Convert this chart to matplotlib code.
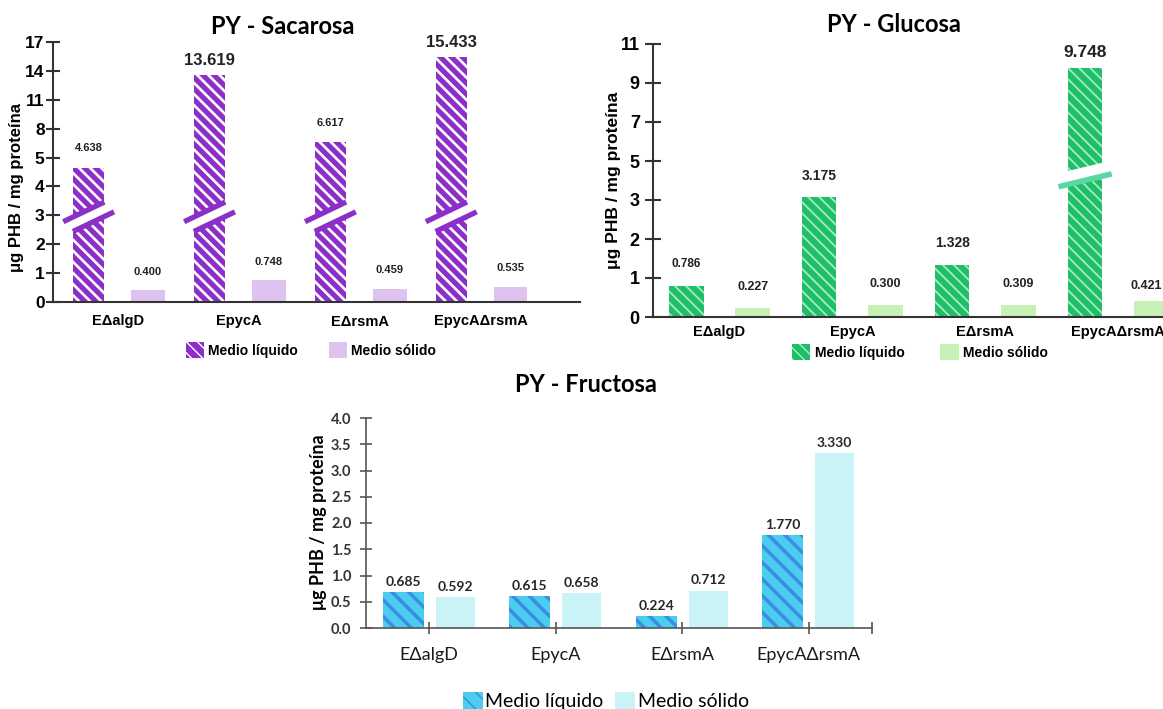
import numpy as np
import matplotlib.pyplot as plt
from matplotlib.scale import FuncScale

# data
strains = ['E\u0394algD', 'EpycA', 'E\u0394rsmA', 'EpycA\u0394rsmA']
series = ['Medio l\u00edquido', 'Medio s\u00f3lido']

sac_liquid = [4.638, 13.619, 6.617, 15.433]
sac_solid = [0.400, 0.748, 0.459, 0.535]
sac_ticks = [0, 1, 2, 3, 4, 5, 8, 11, 14, 17]

glu_liquid = [0.786, 3.175, 1.328, 9.748]
glu_solid = [0.227, 0.300, 0.309, 0.421]
glu_ticks = [0, 1, 2, 3, 5, 7, 9, 11]

fru_liquid = [0.685, 0.615, 0.224, 1.770]
fru_solid = [0.592, 0.658, 0.712, 3.330]
fru_ticks = [0.0, 0.5, 1.0, 1.5, 2.0, 2.5, 3.0, 3.5, 4.0]

ylab = '\u03bcg PHB / mg prote\u00edna'
ARIAL = 'Liberation Sans'
CALIBRI = 'Lato'

# piecewise-linear y scales (axis breaks)
def sac_fwd(v):
    v = np.asarray(v, float)
    return np.where(v <= 5, v, 5 + (v - 5) / 3)

def sac_inv(p):
    p = np.asarray(p, float)
    return np.where(p <= 5, p, 5 + (p - 5) * 3)

def glu_fwd(v):
    v = np.asarray(v, float)
    return np.where(v <= 3, v, 3 + (v - 3) / 2)

def glu_inv(p):
    p = np.asarray(p, float)
    return np.where(p <= 3, p, 3 + (p - 3) * 2)


def hatch_lw(bars, lw):
    for b in bars:
        if hasattr(b, 'set_hatch_linewidth'):
            b.set_hatch_linewidth(lw)


fig = plt.figure(figsize=(11.63, 7.09), dpi=100)
x = np.arange(len(strains))

# ---------------- PY - Sacarosa ----------------
purple = '#8B2FC8'
lav = '#DEC3F0'
ax1 = fig.add_axes([53 / 1163, 1 - 302 / 709, 527 / 1163, 260 / 709])
ax1.set_yscale(FuncScale(ax1, (sac_fwd, sac_inv)))
b1 = ax1.bar(x - 0.245, sac_liquid, 0.26, color=purple, edgecolor='white',
             linewidth=0, hatch='\\\\\\', zorder=2, label=series[0])
hatch_lw(b1, 1.9)
b2 = ax1.bar(x + 0.245, sac_solid, 0.28, color=lav, linewidth=0, zorder=2,
             label=series[1])
ax1.set_ylim(0, 17)
ax1.set_xlim(-0.54, 3.82)
ax1.set_yticks(sac_ticks)
ax1.set_yticklabels([str(t) for t in sac_ticks], fontfamily=ARIAL,
                    fontweight='bold', fontsize=12.5)
ax1.set_xticks(x)
ax1.set_xticklabels(strains, fontfamily=ARIAL, fontweight='bold', fontsize=10.5)
ax1.tick_params(axis='y', direction='inout', length=10, width=1.5, pad=1,
                color='#333333')
ax1.tick_params(axis='x', length=0, pad=9)
for s in ['top', 'right']:
    ax1.spines[s].set_visible(False)
for s in ['left', 'bottom']:
    ax1.spines[s].set_color('#333333')
    ax1.spines[s].set_linewidth(1.5)
ax1.set_ylabel(ylab, fontfamily=ARIAL, fontweight='bold', fontsize=12,
               va='center')
ax1.yaxis.set_label_coords(-0.07, 0.44)

sac_liq_sz = [8, 12, 8, 12]
sac_liq_off = [11, 5, 10, 5]
for xi, v, fs, off in zip(x - 0.245, sac_liquid, sac_liq_sz, sac_liq_off):
    ax1.annotate(f'{v:.3f}', (xi, v), xytext=(0, off), textcoords='offset points',
                 ha='center', va='bottom', fontsize=fs, fontweight='bold',
                 fontfamily=ARIAL, color='#222222')
for xi, v in zip(x + 0.245, sac_solid):
    ax1.annotate(f'{v:.3f}', (xi, v), xytext=(0, 10), textcoords='offset points',
                 ha='center', va='bottom', fontsize=8, fontweight='bold',
                 fontfamily=ARIAL, color='#222222')

# break marks on the liquid bars
for c in x - 0.245:
    k, yc, half = 2.0, 2.95, 0.13
    xg = np.array([c - half - 0.01, c + half + 0.01])
    ax1.fill_between(xg, yc - 0.25 + k * (xg - c), yc + 0.25 + k * (xg - c),
                     color='white', lw=0, zorder=3)
    xu = np.array([c - 0.21, c + half])
    ax1.plot(xu, yc + 0.25 + k * (xu - c), color=purple, lw=3.8,
             solid_capstyle='butt', zorder=4)
    xl = np.array([c - half, c + 0.21])
    ax1.plot(xl, yc - 0.25 + k * (xl - c), color=purple, lw=3.8,
             solid_capstyle='butt', zorder=4)

fig.text(283 / 1163, 1 - 26 / 709, 'PY - Sacarosa', ha='center', va='center',
         fontsize=17, fontweight='bold', fontfamily=CALIBRI)
fig.legend([b1, b2], series, loc='center', bbox_to_anchor=(311 / 1163, 1 - 350 / 709),
           ncol=2, frameon=False, handlelength=1.3, handleheight=1.4,
           handletextpad=0.3, columnspacing=2.2,
           prop={'family': ARIAL, 'weight': 'bold', 'size': 10})

# ---------------- PY - Glucosa ----------------
green = '#1FBF68'
lgreen = '#C8F1B6'
brk_green = '#5CD6A0'
ax2 = fig.add_axes([653 / 1163, 1 - 317 / 709, 585 / 1163, 273 / 709])
ax2.set_yscale(FuncScale(ax2, (glu_fwd, glu_inv)))
g1 = ax2.bar(x - 0.25, glu_liquid, 0.26, color=green, edgecolor='#A6EBC6',
             linewidth=0, hatch='\\\\\\', zorder=2, label=series[0])
hatch_lw(g1, 1.3)
g2 = ax2.bar(x + 0.25, glu_solid, 0.26, color=lgreen, linewidth=0, zorder=2,
             label=series[1])
ax2.set_ylim(0, 11)
ax2.set_xlim(-0.5, 3.9)
ax2.set_yticks(glu_ticks)
ax2.set_yticklabels([str(t) for t in glu_ticks], fontfamily=ARIAL,
                    fontweight='bold', fontsize=13)
ax2.set_xticks(x)
ax2.set_xticklabels(strains, fontfamily=ARIAL, fontweight='bold', fontsize=10.5)
ax2.tick_params(axis='y', direction='inout', length=11, width=1.5, pad=4,
                color='#333333')
ax2.tick_params(axis='x', length=0, pad=6)
for s in ['top', 'right']:
    ax2.spines[s].set_visible(False)
for s in ['left', 'bottom']:
    ax2.spines[s].set_color('#333333')
    ax2.spines[s].set_linewidth(1.5)
ax2.set_ylabel(ylab, fontfamily=ARIAL, fontweight='bold', fontsize=12.5,
               va='center')
ax2.yaxis.set_label_coords(-0.067, 0.5)

glu_liq_sz = [8.5, 10, 10, 12.5]
glu_liq_off = [12, 10, 11, 6]
for xi, v, fs, off in zip(x - 0.25, glu_liquid, glu_liq_sz, glu_liq_off):
    ax2.annotate(f'{v:.3f}', (xi, v), xytext=(0, off), textcoords='offset points',
                 ha='center', va='bottom', fontsize=fs, fontweight='bold',
                 fontfamily=ARIAL, color='#222222')
glu_sol_off = [(0, 11), (0, 11), (0, 11), (-4, 6)]
for xi, v, off in zip(x + 0.25, glu_solid, glu_sol_off):
    ax2.annotate(f'{v:.3f}', (xi, v), xytext=off, textcoords='offset points',
                 ha='center', va='bottom', fontsize=9, fontweight='bold',
                 fontfamily=ARIAL, color='#222222')

# break mark on the tallest bar
c = x[-1] - 0.25
xg = np.array([c - 0.14, c + 0.14])
ax2.fill_between(xg, 3.68 + 1.65 * (xg - c + 0.2), 4.40 + 1.65 * (xg - c + 0.2),
                 color='white', lw=0, zorder=3)
xb = np.array([c - 0.2, c + 0.2])
ax2.plot(xb, 3.68 + 1.65 * (xb - c + 0.2), color=brk_green, lw=4,
         solid_capstyle='butt', zorder=4)

fig.text(894 / 1163, 1 - 25 / 709, 'PY - Glucosa', ha='center', va='center',
         fontsize=17, fontweight='bold', fontfamily=CALIBRI)
fig.legend([g1, g2], series, loc='center', bbox_to_anchor=(920 / 1163, 1 - 352 / 709),
           ncol=2, frameon=False, handlelength=1.3, handleheight=1.4,
           handletextpad=0.3, columnspacing=2.6,
           prop={'family': ARIAL, 'weight': 'bold', 'size': 10})

# ---------------- PY - Fructosa ----------------
cyan = '#4ACDEE'
blue = '#3A8DE2'
pale = '#C9F3F6'
ax3 = fig.add_axes([366 / 1163, 1 - 628 / 709, 506 / 1163, 210 / 709])
f1 = ax3.bar(x - 0.205, fru_liquid, 0.325, color=cyan, edgecolor=blue,
             linewidth=0, hatch='\\\\', zorder=2, label=series[0])
hatch_lw(f1, 2.5)
f2 = ax3.bar(x + 0.205, fru_solid, 0.31, color=pale, linewidth=0, zorder=2,
             label=series[1])
ax3.set_ylim(0, 4)
ax3.set_xlim(-0.5, 3.5)
ax3.set_yticks(fru_ticks)
ax3.set_yticklabels([f'{t:.1f}' for t in fru_ticks], fontfamily=CALIBRI,
                    fontweight='bold', fontsize=10.5, color='#333333')
ax3.set_xticks(list(x) + [3.5])
ax3.set_xticklabels(strains + [''], fontfamily=CALIBRI, fontsize=13,
                    color='#1a1a1a')
ax3.tick_params(axis='both', direction='inout', length=9, width=1.2,
                color='#555555')
ax3.tick_params(axis='y', pad=6)
ax3.tick_params(axis='x', pad=9)
for s in ['top', 'right']:
    ax3.spines[s].set_visible(False)
for s in ['left', 'bottom']:
    ax3.spines[s].set_color('#555555')
    ax3.spines[s].set_linewidth(1.2)
ax3.set_ylabel(ylab, fontfamily=CALIBRI, fontweight='bold', fontsize=13,
               va='center')
ax3.yaxis.set_label_coords(-0.093, 0.505)

for xi, v in zip(x - 0.205, fru_liquid):
    ax3.annotate(f'{v:.3f}', (xi, v), xytext=(0, 3), textcoords='offset points',
                 ha='center', va='bottom', fontsize=10, fontweight='bold',
                 fontfamily=CALIBRI, color='#262626')
for xi, v in zip(x + 0.205, fru_solid):
    ax3.annotate(f'{v:.3f}', (xi, v), xytext=(0, 3), textcoords='offset points',
                 ha='center', va='bottom', fontsize=10, fontweight='bold',
                 fontfamily=CALIBRI, color='#262626')

fig.text(586 / 1163, 1 - 384 / 709, 'PY - Fructosa', ha='center', va='center',
         fontsize=17, fontweight='bold', fontfamily=CALIBRI)
fig.legend([f1, f2], series, loc='center', bbox_to_anchor=(606 / 1163, 1 - 701 / 709),
           ncol=2, frameon=False, handlelength=1.0, handleheight=1.1,
           handletextpad=0.15, columnspacing=0.6,
           prop={'family': CALIBRI, 'size': 14})

fig.savefig('out.png', dpi=100)
